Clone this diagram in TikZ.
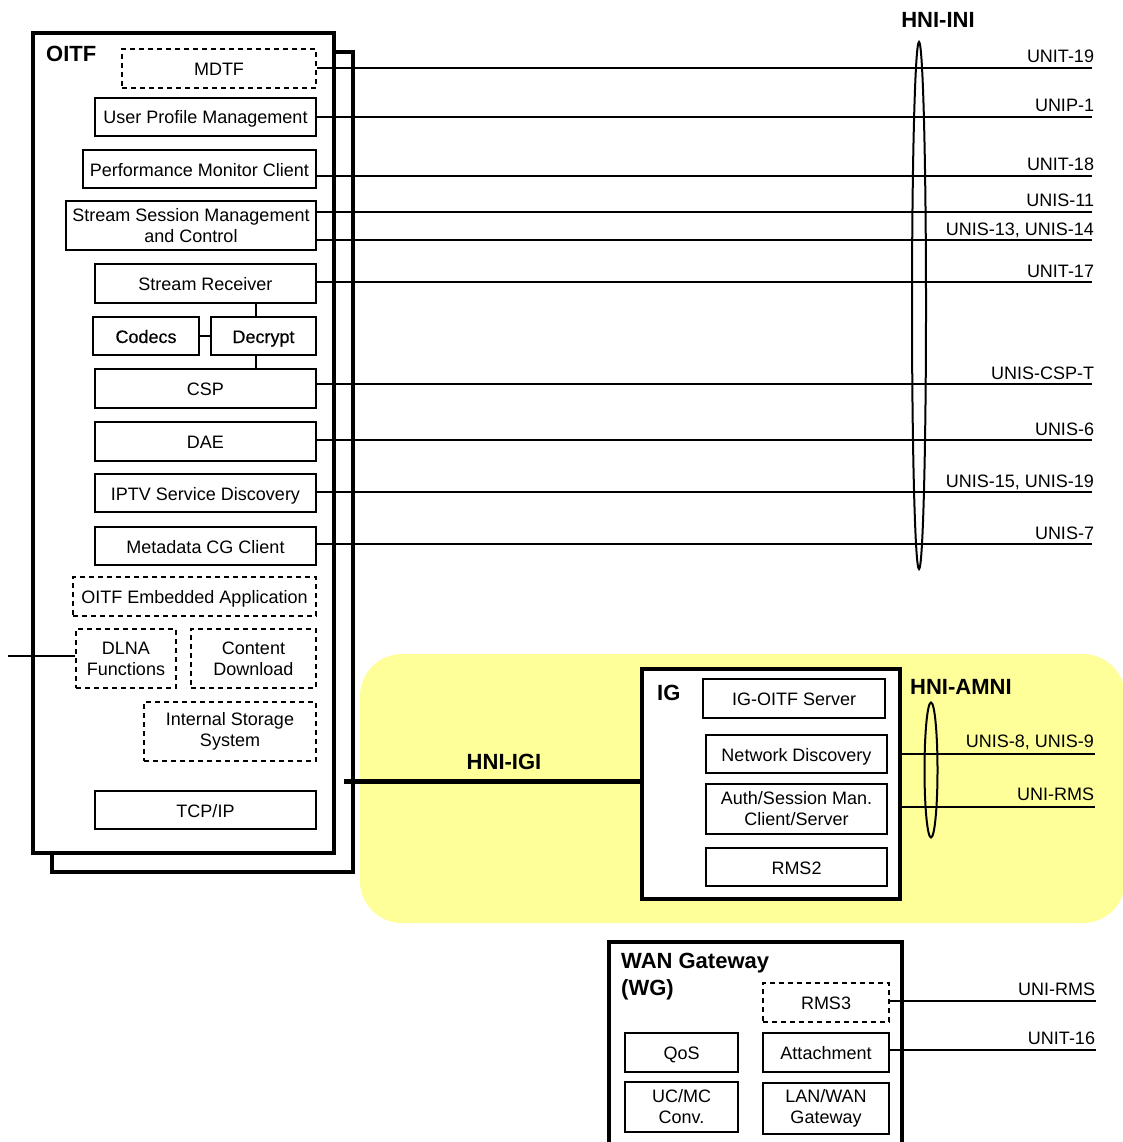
\documentclass[tikz,border=0pt]{standalone}
\usepackage{fontspec}
\setmainfont{Liberation Sans}
\newfontfamily\heavyish[FakeBold=0.4]{Liberation Sans}
\usetikzlibrary{shapes.geometric}
\definecolor{hl}{RGB}{255,255,153}
\begin{document}
\begin{tikzpicture}[x=1pt,y=-1pt,
  basebox/.style={draw, line width=1.5pt, fill=white, inner sep=0pt, align=center, font=\fontsize{18}{21}\selectfont},
  box/.style={basebox, text height=14pt, text depth=0pt},
  mbox/.style={basebox},
  dbox/.style={box, dash pattern=on 5pt off 4pt},
  dmbox/.style={mbox, dash pattern=on 5pt off 4pt},
  outerbox/.style={draw, line width=3.5pt, fill=white, inner sep=0pt},
  link/.style={line width=2pt},
  lbl/.style={anchor=base east, inner sep=0pt, font=\fontsize{18}{21}\selectfont},
  ttl/.style={inner sep=0pt, font=\fontsize{22}{27}\selectfont\bfseries},
  ring/.style={draw, ellipse, line width=2pt, inner sep=0pt}
]
\useasboundingbox (0,0) rectangle (1122,1142);
\fill[white] (0,0) rectangle (1122,1142);
% yellow home-network region
\fill[hl, rounded corners=42pt] (360,654) rectangle (1125,923);
% OITF (with shadow)
\node[outerbox, minimum width=301pt, minimum height=820pt] (oitfsh) at (202.5,462) {};
\node[outerbox, minimum width=301pt, minimum height=820pt] (oitf) at (183.5,443) {};
\node[ttl, anchor=west] (oitft) at (46,54) {OITF};
% OITF functions
\node[dbox, minimum width=194pt, minimum height=39pt] (mdtf) at (219,68.5) {MDTF};
\node[box, minimum width=221pt, minimum height=38pt] (upm) at (205.5,117) {User Profile Management};
\node[box, minimum width=233pt, minimum height=38pt] (pmc) at (199.5,169) {Performance Monitor Client};
\node[mbox, minimum width=250pt, minimum height=49pt] (ssmc) at (191,225.5) {Stream Session Management\\and Control};
\node[box, minimum width=221pt, minimum height=39pt] (sr) at (205.5,283.5) {Stream Receiver};
\node[box, line width=2pt, font=\fontsize{18}{21}\heavyish, minimum width=106pt, minimum height=38pt] (codecs) at (146,336) {Codecs};
\node[box, line width=2pt, font=\fontsize{18}{21}\heavyish, minimum width=105pt, minimum height=38pt] (dec) at (263.5,336) {Decrypt};
\node[box, minimum width=221pt, minimum height=39pt] (csp) at (205.5,388.5) {CSP};
\node[box, minimum width=221pt, minimum height=39pt] (dae) at (205.5,441.5) {DAE};
\node[box, minimum width=221pt, minimum height=38pt] (iptv) at (205.5,493) {IPTV Service Discovery};
\node[box, minimum width=221pt, minimum height=38pt] (mcg) at (205.5,546) {Metadata CG Client};
\node[dbox, minimum width=243pt, minimum height=39pt] (oea) at (194.5,596.5) {OITF Embedded Application};
\node[dmbox, minimum width=100pt, minimum height=59pt] (dlna) at (126,658.5) {DLNA\\Functions};
\node[dmbox, minimum width=125pt, minimum height=59pt] (cd) at (253.5,658.5) {Content\\Download};
\node[dmbox, minimum width=172pt, minimum height=59pt] (iss) at (230,731.5) {Internal Storage\\System};
\node[box, minimum width=221pt, minimum height=38pt] (tcp) at (205.5,810) {TCP/IP};
% internal links
\coordinate (vx) at (256,0);
\draw[line width=1.5pt] (vx |- sr.south) -- (vx |- dec.north);
\draw[line width=1.5pt] (vx |- dec.south) -- (vx |- csp.north);
\draw[line width=1.5pt] (codecs.east) -- (dec.west);
\coordinate (dlx) at (8,656);
\draw[link] (dlx) -- (dlx -| dlna.west);
% IG
\node[outerbox, minimum width=258pt, minimum height=230pt] (ig) at (771,784) {};
\node[ttl, anchor=west] (igt) at (657,693) {IG};
\node[box, minimum width=182pt, minimum height=39pt] (igoitf) at (794,698.5) {IG-OITF Server};
\node[box, minimum width=181pt, minimum height=38pt] (nd) at (796.5,754) {Network Discovery};
\node[mbox, minimum width=181pt, minimum height=50pt] (auth) at (796.5,809) {Auth/Session Man.\\Client/Server};
\node[box, minimum width=181pt, minimum height=38pt] (rms2) at (796.5,867) {RMS2};
% HNI-IGI
\coordinate (igil) at (344,781);
\draw[line width=5pt] (igil) -- (igil -| ig.west);
\node[ttl] (hniigi) at (504,762) {HNI-IGI};
% WAN Gateway
\draw[line width=3.5pt, fill=white] (609,1150) -- (609,942) -- (902,942) -- (902,1150);
\node[ttl, anchor=north west, align=left] (wgt) at (621,953) {WAN Gateway\\(WG)};
\node[dbox, minimum width=126pt, minimum height=39pt] (rms3) at (826,1002.5) {RMS3};
\node[box, minimum width=113pt, minimum height=39pt] (qos) at (681.5,1052.5) {QoS};
\node[box, minimum width=126pt, minimum height=39pt] (att) at (826,1052.5) {Attachment};
\node[mbox, minimum width=113pt, minimum height=50pt] (ucmc) at (681.5,1107) {UC/MC\\Conv.};
\node[mbox, minimum width=126pt, minimum height=51pt] (lanwan) at (826,1108.5) {LAN/WAN\\Gateway};
% HNI-INI reference points
\coordinate (r1) at (1092,68);
\coordinate (r2) at (1092,117);
\coordinate (r3) at (1092,176);
\coordinate (r4) at (1092,212);
\coordinate (r5) at (1092,240);
\coordinate (r6) at (1092,282);
\coordinate (r7) at (1092,384);
\coordinate (r8) at (1092,440);
\coordinate (r9) at (1092,492);
\coordinate (r10) at (1092,544);
\draw[link] (mdtf.east |- r1) -- (r1) node[lbl, xshift=3pt, yshift=5pt] {UNIT-19};
\draw[link] (upm.east |- r2) -- (r2) node[lbl, xshift=3pt, yshift=5pt] {UNIP-1};
\draw[link] (pmc.east |- r3) -- (r3) node[lbl, xshift=3pt, yshift=5pt] {UNIT-18};
\draw[link] (ssmc.east |- r4) -- (r4) node[lbl, xshift=3pt, yshift=5pt] {UNIS-11};
\draw[link] (ssmc.east |- r5) -- (r5) node[lbl, xshift=3pt, yshift=5pt] {UNIS-13, UNIS-14};
\draw[link] (sr.east |- r6) -- (r6) node[lbl, xshift=3pt, yshift=5pt] {UNIT-17};
\draw[link] (csp.east |- r7) -- (r7) node[lbl, xshift=3pt, yshift=5pt] {UNIS-CSP-T};
\draw[link] (dae.east |- r8) -- (r8) node[lbl, xshift=3pt, yshift=5pt] {UNIS-6};
\draw[link] (iptv.east |- r9) -- (r9) node[lbl, xshift=3pt, yshift=5pt] {UNIS-15, UNIS-19};
\draw[link] (mcg.east |- r10) -- (r10) node[lbl, xshift=3pt, yshift=5pt] {UNIS-7};
\node[ring, minimum width=14pt, minimum height=527pt] (hniini) at (919,305.5) {};
\node[ttl] (hniinit) at (938,20) {HNI-INI};
% HNI-AMNI
\coordinate (a1) at (1095,754);
\coordinate (a2) at (1095,807);
\draw[link] (ig.east |- a1) -- (a1) node[lbl, yshift=7pt] {UNIS-8, UNIS-9};
\draw[link] (ig.east |- a2) -- (a2) node[lbl, yshift=7pt] {UNI-RMS};
\node[ring, minimum width=13pt, minimum height=135pt] (hniamni) at (931,770) {};
\node[ttl, anchor=west] (hniamnit) at (910,687) {HNI-AMNI};
% WAN links
\coordinate (w1) at (1096,1001);
\coordinate (w2) at (1096,1050);
\draw[link] (rms3.east |- w1) -- (w1) node[lbl, yshift=6pt] {UNI-RMS};
\draw[link] (att.east |- w2) -- (w2) node[lbl, yshift=6pt] {UNIT-16};
\end{tikzpicture}
\end{document}
